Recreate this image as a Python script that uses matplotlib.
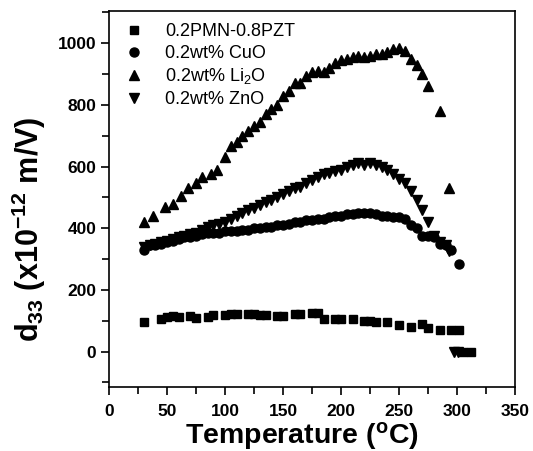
import numpy as np
import matplotlib
matplotlib.use('Agg')
import matplotlib.pyplot as plt
from matplotlib.ticker import MultipleLocator

plt.rcParams['font.family'] = ['Liberation Sans', 'DejaVu Sans']
plt.rcParams['mathtext.default'] = 'regular'

# 0.2PMN-0.8PZT
t_pzt = [30, 45, 50, 55, 60, 70, 75, 85, 90, 100, 105, 110, 120, 125, 130, 135, 145, 150,
         160, 165, 175, 180, 185, 195, 200, 210, 220, 225, 230, 240, 250, 260, 270, 275,
         285, 295, 302, 305, 312]
d_pzt = [95, 105, 112, 115, 112, 115, 108, 112, 118, 118, 123, 122, 122, 122, 120, 118, 115, 115,
         122, 122, 125, 125, 105, 105, 105, 105, 100, 100, 95, 95, 85, 80, 90, 75,
         70, 70, 70, 0, 0]

# 0.2wt% CuO
t_cuo = [30, 35, 40, 45, 50, 55, 60, 65, 70, 75, 80, 85, 90, 95, 100, 105, 110, 115, 120,
         125, 130, 135, 140, 145, 150, 155, 160, 165, 170, 175, 180, 185, 190, 195, 200,
         205, 210, 215, 220, 225, 230, 235, 240, 245, 250, 255, 260, 265, 270, 275, 280,
         285, 290, 295, 302]
d_cuo = [330, 345, 345, 350, 355, 360, 365, 370, 370, 375, 380, 385, 385, 385, 390, 390, 390, 395, 395,
         400, 400, 405, 405, 410, 410, 415, 420, 420, 425, 425, 430, 430, 435, 440, 440,
         445, 445, 450, 450, 450, 445, 440, 440, 435, 435, 430, 410, 400, 375, 375, 370,
         350, 345, 330, 285]

# 0.2wt% Li2O
t_li = [30, 38, 48, 55, 62, 68, 75, 80, 88, 93, 100, 105, 110, 115, 120, 125, 130, 135, 140,
        145, 150, 155, 160, 165, 170, 175, 180, 185, 190, 195, 200, 205, 210, 215, 220, 225,
        230, 235, 240, 245, 250, 255, 260, 265, 270, 275, 285, 293]
d_li = [420, 440, 470, 480, 505, 530, 545, 565, 575, 590, 630, 665, 680, 700, 715, 730, 745, 770, 785,
        800, 830, 845, 870, 870, 895, 905, 910, 905, 920, 935, 945, 950, 955, 960, 955, 960,
        965, 965, 970, 980, 985, 975, 950, 930, 900, 860, 780, 530]

# 0.2wt% ZnO
t_zn = [30, 35, 40, 45, 50, 55, 60, 65, 70, 75, 80, 85, 90, 95, 100, 105, 110, 115, 120, 125,
        130, 135, 140, 145, 150, 155, 160, 165, 170, 175, 180, 185, 190, 195, 200, 205, 210,
        215, 220, 225, 230, 235, 240, 245, 250, 255, 260, 265, 270, 275, 280, 285, 290, 293,
        297, 301]
d_zn = [340, 345, 350, 355, 360, 365, 370, 375, 380, 385, 395, 405, 410, 415, 420, 430, 440, 450, 460, 465,
        475, 485, 490, 500, 510, 520, 530, 535, 545, 555, 565, 575, 580, 585, 590, 600, 605,
        610, 605, 610, 605, 600, 590, 575, 560, 545, 520, 490, 460, 420, 375, 355, 345, 325,
        0, 0]

fig = plt.figure(figsize=(5.33, 4.51), dpi=100)
ax = fig.add_axes([0.2045, 0.142, 0.762, 0.834])

ax.plot(t_pzt, d_pzt, 's', color='black', ms=6, label='0.2PMN-0.8PZT')
ax.plot(t_cuo, d_cuo, 'o', color='black', ms=6.5, label='0.2wt% CuO')
ax.plot(t_li, d_li, '^', color='black', ms=7, label='0.2wt% Li$_2$O')
ax.plot(t_zn, d_zn, 'v', color='black', ms=7, label='0.2wt% ZnO')

ax.set_xlim(0, 350)
ax.set_ylim(-115, 1105)
ax.xaxis.set_major_locator(MultipleLocator(50))
ax.xaxis.set_minor_locator(MultipleLocator(25))
ax.yaxis.set_major_locator(MultipleLocator(200))
ax.yaxis.set_minor_locator(MultipleLocator(100))
ax.tick_params(which='major', direction='out', length=6, width=1.2, labelsize=12.5, pad=3)
ax.tick_params(axis='x', which='major', pad=6)
ax.tick_params(which='minor', direction='out', length=5, width=1.2)
for lab in ax.get_xticklabels() + ax.get_yticklabels():
    lab.set_fontweight('bold')
for sp in ax.spines.values():
    sp.set_linewidth(1.2)

ax.set_xlabel('Temperature ($^{o}$C)', fontsize=20.5, fontweight='bold')
ax.set_ylabel('d$_{33}$ (x10$^{-12}$ m/V)', fontsize=22, fontweight='bold')
ax.xaxis.set_label_coords(0.475, -0.088)
ax.yaxis.set_label_coords(-0.15, 0.42)

ax.legend(loc='upper left', frameon=False, fontsize=13, handletextpad=1.0,
          borderaxespad=0.3, labelspacing=0.25, handlelength=1.4)

fig.savefig('out.png', dpi=100)
